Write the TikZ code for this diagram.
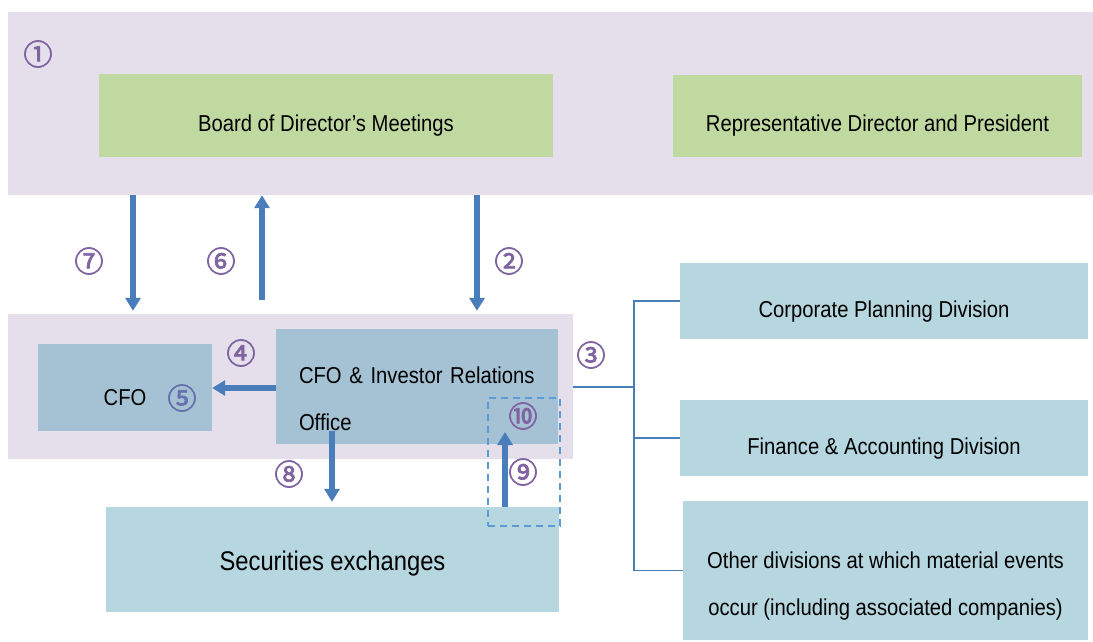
\documentclass[tikz,border=0pt]{standalone}
\usepackage{fontspec}
\setmainfont[FakeStretch=0.88]{Liberation Sans}
\newfontfamily\circfont[FakeBold=2.5]{Noto Sans CJK JP}
\usetikzlibrary{arrows.meta}

\definecolor{zonelav}{HTML}{E5DFEC}
\definecolor{boxgreen}{HTML}{C0D9A0}
\definecolor{boxsteel}{HTML}{A5C2D4}
\definecolor{boxaqua}{HTML}{B6D7DF}
\definecolor{flowblue}{HTML}{4A7EBB}
\definecolor{numpurple}{HTML}{8064A2}
\definecolor{numblue}{HTML}{6670AC}
\definecolor{dashblue}{HTML}{5B9BD5}

\begin{document}
\begin{tikzpicture}[x=1pt, y=-1pt, >={Triangle[width=15pt,length=13pt]},
	every node/.style={inner sep=0pt, font=\fontsize{23}{47}\selectfont},
	zone/.style={fill=zonelav},
	box/.style={fill=#1, align=center},
	sink/.style={execute at begin node={\rule{0pt}{#1}}}, sink/.default=37pt,
	num/.style={text=numpurple, font=\circfont\fontsize{29}{29}\selectfont},
	flow/.style={->, draw=flowblue, line width=6pt},
	link/.style={draw=flowblue, line width=1.8pt},
	watch/.style={draw=dashblue, line width=1.8pt, dash pattern=on 7pt off 5pt}]
	\useasboundingbox (0,0) rectangle (1093,641);

	% zones
	\node[zone, minimum width=1085, minimum height=183] (boardzone) at (550.5,103.5) {};
	\node[zone, minimum width=565, minimum height=145] (irzone) at (290.5,386.5) {};

	% boxes
	\node[box=boxgreen, sink, minimum width=454, minimum height=83] (board) at (326,115.5) {Board of Director’s Meetings};
	\node[box=boxgreen, sink, minimum width=409, minimum height=82] (rep) at (877.5,115.5) {Representative Director and President};
	\node[box=boxsteel, sink, minimum width=174, minimum height=87] (cfo) at (125,387.5) {CFO};
	\node[box=boxsteel, sink=41pt, align=left, text width=236, minimum width=282, minimum height=115] (iro) at (417,386.5) {CFO \& Investor Relations\\Office};
	\node[box=boxaqua, sink=27pt, minimum width=453, minimum height=105, font=\fontsize{27}{32}\selectfont] (sec) at (332.5,559.5) {Securities exchanges};
	\node[box=boxaqua, sink, minimum width=408, minimum height=76] (cpd) at (884,301) {Corporate Planning Division};
	\node[box=boxaqua, sink, minimum width=408, minimum height=76] (fad) at (884,438) {Finance \& Accounting Division};
	\node[box=boxaqua, sink=94pt, minimum width=405, minimum height=139] (oth) at (885.5,570.5) {Other divisions at which material events\\occur (including associated companies)};
	\node[watch, minimum width=72, minimum height=128] (check) at (524,462) {};

	% numbers
	\node[num] (n1) at (38,54) {①};
	\node[num] (n2) at (509,261) {②};
	\node[num] (n3) at (591,355) {③};
	\node[num] (n4) at (241,353) {④};
	\node[num, text=numblue] (n5) at (182,398) {⑤};
	\node[num] (n6) at (221,261) {⑥};
	\node[num] (n7) at (89,261) {⑦};
	\node[num] (n8) at (289,474) {⑧};
	\node[num] (n9) at (523,472) {⑨};
	\node[num] (n10) at (523,416) {⑩};

	% arrows
	\coordinate (t6) at (262,300);
	\coordinate (t8) at (332,431);
	\coordinate (h9) at (505,432);
	\draw[flow, shorten >=3pt] (133,0 |- boardzone.south) -- (133,0 |- irzone.north);
	\draw[flow] (t6) -- (t6 |- boardzone.south);
	\draw[flow, shorten >=3pt] (477,0 |- boardzone.south) -- (477,0 |- irzone.north);
	\draw[flow] (iro.west |- 0,388) -- (cfo.east |- 0,388);
	\draw[flow, shorten >=5pt] (t8) -- (t8 |- sec.north);
	\draw[flow] (h9 |- sec.north) -- (h9);

	% links to divisions
	\coordinate (hub) at (634,387);
	\draw[link] (irzone.east |- hub) -- (hub);
	\draw[link] (cpd.west) -| (hub) |- (fad.west);
	\draw[link] (hub |- fad.west) |- (oth.west);
\end{tikzpicture}
\end{document}
